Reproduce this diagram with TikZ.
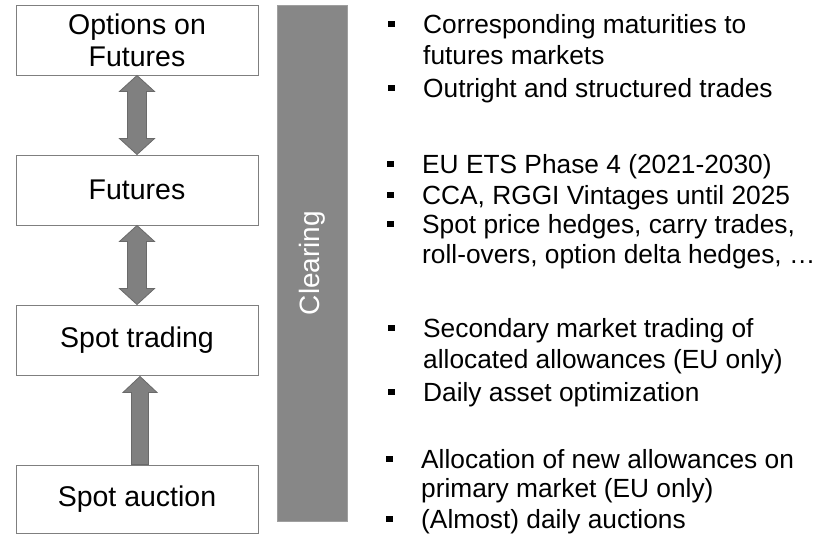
\documentclass[tikz,border=0pt]{standalone}
\usepackage{fontspec}
\setmainfont{Liberation Sans}
\usetikzlibrary{calc}
\definecolor{arrgray}{HTML}{808080}
\definecolor{arredge}{HTML}{6A6A6A}
\definecolor{bargray}{HTML}{878787}
\definecolor{boxedge}{HTML}{7F7F7F}
\tikzset{
  box/.style={draw=boxedge, line width=0.9pt, fill=white, minimum width=242pt, minimum height=70pt, inner sep=0pt, align=center, font=\fontsize{28.5}{32}\selectfont},
  arrowshape/.style={fill=arrgray, draw=arredge, line width=0.8pt, line join=miter},
  bar/.style={fill=bargray, draw=bargray!80!white, line width=0.5pt, minimum width=516pt, minimum height=70pt, inner sep=0pt, text=white, font=\fontsize{28}{32}\selectfont},
  itemline/.style={anchor=base west, inner sep=0pt, font=\fontsize{26.3}{31}\selectfont},
}
\newcommand\dblarrow[2]{%
  \path[arrowshape] let \p1=(#1.south), \p2=(#2.north) in
  (\x1,\y1) -- (\x1+17.5pt,\y1-16pt) -- (\x1+9.5pt,\y1-16pt) -- (\x1+9.5pt,\y2+16pt) -- (\x1+17.5pt,\y2+16pt) -- (\x1,\y2)
  -- (\x1-17.5pt,\y2+16pt) -- (\x1-9.5pt,\y2+16pt) -- (\x1-9.5pt,\y1-16pt) -- (\x1-17.5pt,\y1-16pt) -- cycle;}
\newcommand\bul[1]{\fill ($(#1.base west)+(-35,6.5)$) rectangle ++(6.5,6);}
\begin{document}
\begin{tikzpicture}[x=1pt,y=1pt]
\useasboundingbox (0,0) rectangle (827,-535);
% left boxes
\node[box] (opt) at (137,-40) {Options on\\Futures};
\node[box] (fut) at (137,-190) {Futures};
\node[box] (spt) at (137,-340) {Spot trading};
\node[box, minimum height=68pt] (auc) at (137,-499) {Spot auction};
% arrows
\dblarrow{opt}{fut}
\dblarrow{fut}{spt}
\path[arrowshape] let \p1=(auc.north), \p2=(spt.south) in
  (\x1-8.5pt+3pt,\y1) -- (\x1-8.5pt+3pt,\y2-17pt) -- (\x1-17pt+3pt,\y2-17pt) -- (\x2+3pt,\y2-1pt)
  -- (\x1+17pt+3pt,\y2-17pt) -- (\x1+8.5pt+3pt,\y2-17pt) -- (\x1+8.5pt+3pt,\y1) -- cycle;
% clearing bar
\node[bar, rotate=90] (clr) at (312,-263) {Clearing};
% group 1
\node[itemline] (a1) at (423,-34) {Corresponding maturities to};
\node[itemline] (a2) at (423,-65) {futures markets};
\node[itemline] (a3) at (423,-97) {Outright and structured trades};
\bul{a1}\bul{a3}
% group 2
\node[itemline] (b1) at (422,-173) {EU ETS Phase 4 (2021-2030)};
\node[itemline] (b2) at (422,-204) {CCA, RGGI Vintages until 2025};
\node[itemline] (b3) at (422,-233) {Spot price hedges, carry trades,};
\node[itemline] (b4) at (422,-263) {roll-overs, option delta hedges, …};
\bul{b1}\bul{b2}\bul{b3}
% group 3
\node[itemline] (c1) at (423,-337) {Secondary market trading of};
\node[itemline] (c2) at (423,-368) {allocated allowances (EU only)};
\node[itemline] (c3) at (423,-401) {Daily asset optimization};
\bul{c1}\bul{c3}
% group 4
\node[itemline] (d1) at (421,-468) {Allocation of new allowances on};
\node[itemline] (d2) at (421,-497) {primary market (EU only)};
\node[itemline] (d3) at (421,-528) {(Almost) daily auctions};
\bul{d1}\bul{d3}
\end{tikzpicture}
\end{document}
